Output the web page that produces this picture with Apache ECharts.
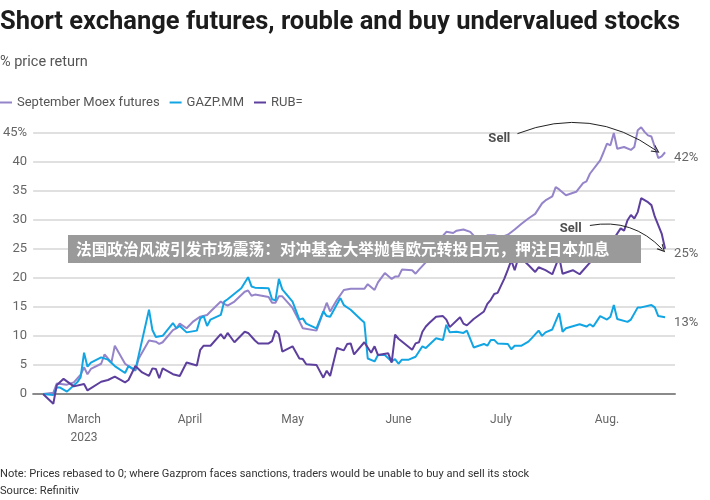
<!DOCTYPE html>
<html>
<head>
<meta charset="utf-8">
<script src="https://cdn.jsdelivr.net/npm/echarts@6/dist/echarts.min.js"></script>
<style>html,body{margin:0;padding:0;background:#fff}#chart{width:710px;height:500px}</style>
</head>
<body>
<div id="chart"></div>
<script>
// Days are counted from 1 March 2023 (day 0)
const moexDays = [-12,-9,-8,-5,-3,-1,0,1,2,5,6,8,9,12,13,15,16,19,21,22,23,26,27,28,30,32,34,36,37,40,41,42,44,47,48,49,50,54,55,56,57,58,61,63,64,68,71,72,74,76,78,82,83,85,86,88,90,91,92,93,96,97,98,101,103,106,108,109,111,113,115,116,118,120,122,124,126,128,130,132,133,134,135,137,138,139,141,144,146,147,148,151,152,153,154,155,156,158,160,161,162,163,164,165,166,167,168,169,170];
const moexValues = [0,0.2,1.8,1.6,2.0,3.3,4.6,3.4,4.3,5.2,6.8,5.4,8.3,5.2,4.8,4.0,6.1,9.2,9.0,8.6,8.9,11.0,11.3,12.1,11.3,12.5,13.3,13.6,14.2,15.9,15.5,15.2,15.9,17.6,17.8,16.9,17.1,16.7,15.7,15.7,16.8,16.8,14.8,12.5,11.3,10.9,15.7,14.2,16.2,17.9,18.1,18.1,18.9,17.9,19.2,20.8,19.8,20.2,20.2,21.4,21.3,20.7,21.4,23.3,25.9,27.9,27.7,28.1,28.3,27.9,26.6,26.6,27.3,27.3,27.0,27.4,28.3,29.3,30.2,31.0,31.9,32.8,33.3,34.0,35.6,35.2,34.2,34.8,36.3,36.6,37.9,40.2,41.6,43.1,42.8,44.9,42.2,42.5,42.0,42.5,45.4,45.9,45.1,44.5,44.3,42.5,40.6,40.9,41.6];

const gazpDays = [-12,-9,-8,-7,-5,-2,-1,0,1,2,5,7,9,12,13,15,19,20,21,23,26,27,28,30,33,34,35,36,37,40,41,42,46,48,49,50,54,55,56,57,58,61,63,64,65,68,70,71,72,75,76,78,81,82,83,85,86,88,90,91,92,93,95,97,99,100,103,105,106,107,109,111,112,114,117,118,119,120,121,124,125,126,128,130,131,133,134,135,137,139,140,141,145,147,148,149,151,153,154,155,156,159,160,162,163,166,167,168,170];
const gazpValues = [0,-0.2,1.1,1.1,0.4,2.0,2.9,7.1,4.7,5.4,6.3,5.9,4.8,3.6,4.8,4.1,14.5,11.0,9.8,10.0,12.2,11.3,11.7,10.6,10.9,13.0,13.4,11.7,12.8,13.6,15.9,16.3,18.2,20.1,18.5,18.3,18.2,16.3,16.1,19.8,18.0,15.9,12.8,13.0,12.1,11.3,14.2,13.4,13.3,16.5,15.3,14.5,12.8,12.3,6.1,5.6,6.7,6.7,5.6,6.0,5.2,5.9,5.9,6.4,8.2,7.9,9.6,9.3,11.9,10.6,10.7,10.5,10.9,8.0,8.6,8.3,9.3,9.3,8.7,8.6,7.7,8.3,8.3,9.0,9.6,10.9,10.0,10.6,11.1,13.9,10.7,11.3,12.0,11.6,12.0,11.6,13.4,12.8,13.3,15.3,12.9,12.4,12.8,14.9,14.9,15.3,14.9,13.4,13.2];

const rubDays = [-12,-9,-8,-6,-3,0,1,5,7,9,12,13,15,17,19,20,21,22,23,26,28,30,33,34,35,37,40,41,42,44,47,48,50,51,54,55,56,57,58,61,63,64,65,68,70,71,72,74,76,77,78,79,82,84,85,86,89,90,91,92,96,97,98,99,100,101,103,105,106,107,110,111,112,114,117,118,119,120,121,123,124,125,126,127,128,130,132,133,135,137,139,140,143,145,148,150,152,154,155,157,158,159,160,161,162,163,165,166,167,169,170];
const rubValues = [0,-1.7,1.5,2.6,1.3,1.7,0.6,2.1,2.4,3.0,2.0,2.4,4.8,3.7,3.1,4.4,4.3,2.7,4.4,3.4,3.1,5.4,4.9,7.6,8.3,8.3,10.3,9.5,10.5,8.9,10.7,10.5,9.2,8.7,8.7,9.1,10.9,10.3,7.3,8.2,6.1,6.0,5.1,5.0,2.8,4.0,3.1,7.9,7.5,8.6,8.7,6.8,8.9,7.1,8.2,6.7,7.0,5.4,10.2,9.5,7.6,8.7,8.9,10.7,11.6,12.2,13.3,13.4,12.8,11.5,13.2,12.1,11.8,12.9,14.2,15.5,16.2,17.2,17.4,19.9,21.4,23.0,21.3,23.3,23.3,22.2,21.0,21.8,21.3,20.6,23.6,20.7,21.3,20.6,22.6,23.3,23.7,24.3,26.7,28.5,28.1,29.9,30.8,30.2,31.3,33.7,33.0,32.5,30.5,27.6,25.0];

const seriesNames = ['September Moex futures', 'GAZP.MM', 'RUB='];
const endLabels = ['42%', '13%', '25%'];
const yTicks = [-5, 0, 5, 10, 15, 20, 25, 30, 35, 40, 45];
const monthLabels = {2: 'March\n2023', 3: 'April', 4: 'May', 5: 'June', 6: 'July', 7: 'Aug.'};
// Annotation arrows (day, value) and their "Sell" notes
const sellArrows = [
  [[126.8, 44.8], [167.4, 41.9]],
  [[148.0, 29.0], [169.2, 24.9]]
];
const sellNotes = [[121.5, 44.0], [142.4, 28.5]];

const DAY = 86400000;
const base = Date.UTC(2023, 2, 1);
const t = d => base + d * DAY;
const pairs = (days, vals) => days.map((d, i) => [t(d), vals[i]]);

const FONT = 'Roboto, "Noto Sans", sans-serif';
const colors = ['#9584c9', '#12a5e4', '#5d3f9e'];
const chevron = 'path://M0,10 L5,0 L10,10 L8.6,10 L5,2.8 L1.4,10 Z';

function lineSeries(idx, data) {
  return {
    name: seriesNames[idx],
    type: 'line',
    data: data,
    clip: false,
    showSymbol: false,
    symbol: 'none',
    lineStyle: {width: 2, color: colors[idx]},
    itemStyle: {color: colors[idx]},
    z: 3 + idx,
    endLabel: {
      show: true,
      formatter: endLabels[idx],
      distance: 9,
      offset: [0, 5],
      color: '#666',
      fontSize: 13,
      fontFamily: FONT
    }
  };
}

const chart = echarts.init(document.getElementById('chart'), null, {renderer: 'canvas'});
chart.setOption({
  animation: false,
  useUTC: true,
  backgroundColor: '#fff',
  color: colors,
  title: [
    {text: 'Short exchange futures, rouble and buy undervalued stocks', left: 0, top: 10, padding: 0,
     textStyle: {fontSize: 25.5, fontWeight: 'bold', color: '#1c1c1c', fontFamily: FONT}},
    {text: '% price return', left: 0, top: 55, padding: 0,
     textStyle: {fontSize: 14.5, fontWeight: 'normal', color: '#555', fontFamily: FONT}},
    {text: 'Note: Prices rebased to 0; where Gazprom faces sanctions, traders would be unable to buy and sell its stock', left: 0, top: 469, padding: 0,
     textStyle: {fontSize: 11.1, fontWeight: 'normal', color: '#333', fontFamily: FONT}},
    {text: 'Source: Refinitiv', left: 0, top: 486, padding: 0,
     textStyle: {fontSize: 11.1, fontWeight: 'normal', color: '#333', fontFamily: FONT}}
  ],
  legend: {
    left: 0, top: 95, padding: 0,
    icon: 'rect', itemWidth: 12, itemHeight: 2, itemGap: 10,
    selectedMode: false,
    textStyle: {fontSize: 13, color: '#555', fontFamily: FONT, lineHeight: 15},
    data: seriesNames
  },
  grid: {left: 31, right: 35, top: 132.5, bottom: 77, containLabel: false},
  xAxis: {
    type: 'time',
    min: t(-14.9),
    max: t(172.9),
    splitNumber: 6,
    axisLine: {show: true, onZero: true, lineStyle: {color: '#8a8a8a', width: 2}},
    axisTick: {show: false},
    splitLine: {show: false},
    axisLabel: {
      showMinLabel: false, showMaxLabel: false,
      margin: -12, color: '#666', fontSize: 12, lineHeight: 18, fontFamily: FONT,
      hideOverlap: false,
      formatter: function (v) {
        const d = new Date(v);
        if (d.getUTCDate() !== 1) return '';
        return monthLabels[d.getUTCMonth()] || '';
      }
    }
  },
  yAxis: {
    type: 'value',
    min: yTicks[0], max: yTicks[yTicks.length - 1], interval: 5,
    position: 'left',
    axisLine: {show: false},
    axisTick: {show: false},
    axisLabel: {
      margin: 6, color: '#666', fontSize: 13, fontFamily: FONT,
      formatter: v => v < 0 ? '' : (v === 45 ? '45%' : String(v))
    },
    splitLine: {show: true, lineStyle: {width: 2, color: yTicks.map(v => v <= 0 ? 'rgba(0,0,0,0)' : '#e0e0e0')}}
  },
  series: [
    lineSeries(0, pairs(moexDays, moexValues)),
    lineSeries(1, pairs(gazpDays, gazpValues)),
    lineSeries(2, pairs(rubDays, rubValues)),
    {
      type: 'lines',
      coordinateSystem: 'cartesian2d',
      silent: true,
      clip: false,
      z: 10,
      symbol: ['none', chevron],
      symbolSize: 8,
      lineStyle: {color: '#222', width: 1, opacity: 1, curveness: 0.27},
      data: sellArrows.map(a => ({coords: a.map(p => [t(p[0]), p[1]])}))
    },
    {
      type: 'scatter',
      silent: true,
      clip: false,
      z: 10,
      symbolSize: 0,
      data: sellNotes.map(p => [t(p[0]), p[1]]),
      label: {show: true, formatter: 'Sell', position: 'inside', color: '#222', fontWeight: 'bold', fontSize: 13, fontFamily: FONT}
    }
  ],
  graphic: [
    {type: 'rect', z: 100, shape: {x: 68, y: 235, width: 573, height: 28}, style: {fill: '#9a9a9a'}},
    {type: 'text', z: 101, x: 76, y: 249,
     style: {text: '法国政治风波引发市场震荡：对冲基金大举抛售欧元转投日元，押注日本加息', fill: '#fff',
             font: 'bold 15.7px "Noto Sans CJK SC"', textVerticalAlign: 'middle', verticalAlign: 'middle'}}
  ]
});
</script>
</body>
</html>
